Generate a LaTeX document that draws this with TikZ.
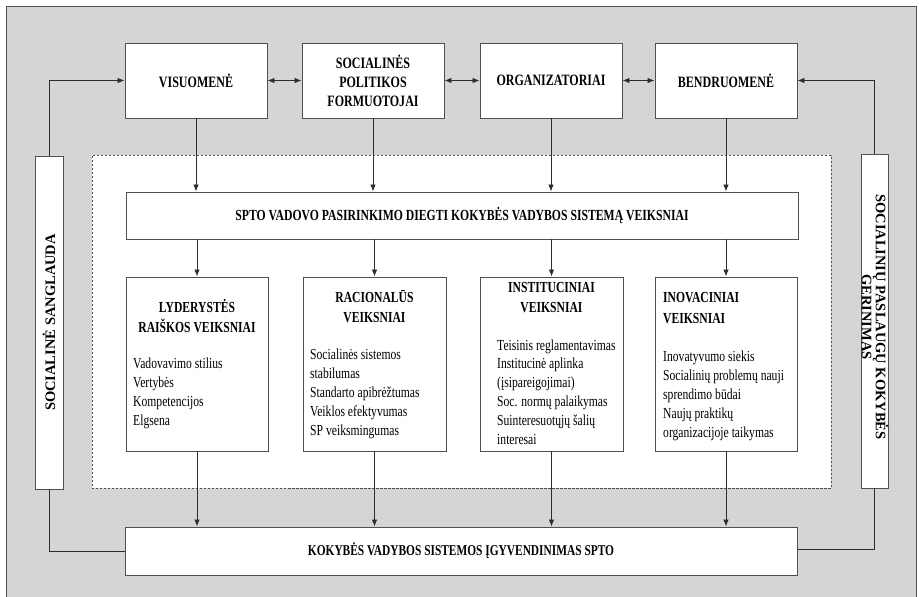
\documentclass[tikz,border=0pt]{standalone}
\usepackage{fontspec}
\setmainfont{Liberation Serif}[FakeStretch=0.76]
\newfontfamily\sidefont{Liberation Serif}
\usetikzlibrary{arrows.meta}

\definecolor{panel}{RGB}{212,213,215}
\definecolor{ink}{RGB}{45,45,45}
\definecolor{frame}{RGB}{80,80,80}

\begin{document}
\begin{tikzpicture}[x=1bp,y=-1bp,
  box/.style={draw=frame, line width=0.9bp, fill=white, inner sep=0pt},
  zone/.style={draw=frame, line width=0.7bp, dash pattern=on 2.5bp off 1.5bp, fill=white, inner sep=0pt},
  link/.style={draw=ink, line width=0.85bp},
  tip/.tip={Latex[length=7bp,width=5.5bp]},
  arr/.style={link, -tip},
  darr/.style={link, tip-tip},
  head/.style={font=\bfseries\fontsize{15.8bp}{19bp}\selectfont, align=center, inner sep=0pt},
  fhead/.style={font=\bfseries\fontsize{15.3bp}{20bp}\selectfont, inner sep=0pt},
  body/.style={font=\fontsize{15.3bp}{19bp}\selectfont, align=left, inner sep=0pt, anchor=base west},
  side/.style={font=\sidefont\bfseries\fontsize{14.5bp}{14bp}\selectfont, align=center, inner sep=0pt}
]
\useasboundingbox (0,0) rectangle (919,597);

% background panel
\fill[panel] (6,6) rectangle (916,597);
\draw[frame, line width=0.9bp] (6,597) -- (6,6) -- (916,6) -- (916,597);

% dashed area around the factor groups
\node[zone, minimum width=739bp, minimum height=333bp] (zone) at (461.5,321.5) {};

% actors
\node[box, minimum width=142bp, minimum height=75bp, head] (vis) at (196,80.5) {VISUOMENĖ};
\node[box, minimum width=142bp, minimum height=75bp, head] (spf) at (373,80.5) {SOCIALINĖS\\POLITIKOS\\FORMUOTOJAI};
\node[box, minimum width=142bp, minimum height=75bp, head] (org) at (551,80.5) {ORGANIZATORIAI};
\node[box, minimum width=142bp, minimum height=75bp, head] (ben) at (726,80.5) {BENDRUOMENĖ};

% side boxes
\node[box, minimum width=28bp, minimum height=333bp] (sang) at (49,322.5) {};
\node[side, rotate=90] (sangt) at (49,322.5) {SOCIALINĖ SANGLAUDA};
\node[box, minimum width=27bp, minimum height=334bp] (ger) at (874.5,321) {};
\node[side, rotate=-90] (gert) at (875,317) {SOCIALINIŲ PASLAUGŲ KOKYBĖS\\GERINIMAS};

% factor bar
\node[box, minimum width=672bp, minimum height=47bp, head, font=\bfseries\fontsize{15.4bp}{19bp}\selectfont] (bar) at (462,215.5)
  {SPTO VADOVO PASIRINKIMO DIEGTI KOKYBĖS VADYBOS SISTEMĄ VEIKSNIAI};

% factor groups
\node[box, minimum width=142bp, minimum height=174bp] (lyd) at (197,364) {};
\node[box, minimum width=143bp, minimum height=174bp] (rac) at (374.5,364) {};
\node[box, minimum width=143bp, minimum height=174bp] (ins) at (551.5,364) {};
\node[box, minimum width=142bp, minimum height=174bp] (ino) at (726,364) {};

% group texts (anchored at the baseline of their last line)
\node[fhead, align=center, anchor=base] (lydh) at (197,332.5) {LYDERYSTĖS\\RAIŠKOS VEIKSNIAI};
\node[body] (lydb) at (133,425) {Vadovavimo stilius\\Vertybės\\Kompetencijos\\Elgsena};

\node[fhead, align=center, anchor=base] (rach) at (374.5,322.5) {RACIONALŪS\\VEIKSNIAI};
\node[body] (racb) at (310,435) {Socialinės sistemos\\stabilumas\\Standarto apibrėžtumas\\Veiklos efektyvumas\\SP veiksmingumas};

\node[fhead, align=center, anchor=base] (insh) at (551.5,312.5) {INSTITUCINIAI\\VEIKSNIAI};
\node[body, font=\fontsize{15.3bp}{18.8bp}\selectfont] (insb) at (497,444) {Teisinis reglamentavimas\\Institucinė aplinka\\(įsipareigojimai)\\Soc. normų palaikymas\\Suinteresuotųjų šalių\\interesai};

\node[fhead, align=left, anchor=base west, font=\bfseries\fontsize{15.3bp}{21bp}\selectfont] (inoh) at (663,323.5) {INOVACINIAI\\VEIKSNIAI};
\node[body] (inob) at (663,437) {Inovatyvumo siekis\\Socialinių problemų nauji\\sprendimo būdai\\Naujų praktikų\\organizacijoje taikymas};

% result
\node[box, minimum width=672bp, minimum height=48bp, head, font=\bfseries\fontsize{15bp}{19bp}\selectfont] (kvs) at (461,551)
  {KOKYBĖS VADYBOS SISTEMOS ĮGYVENDINIMAS SPTO};

% links between actors
\draw[darr] (vis.east) -- (spf.west);
\draw[darr] (spf.east) -- (org.west);
\draw[darr] (org.east) -- (ben.west);

% actors to factor bar
\foreach \a in {vis,spf,org,ben}
  \draw[arr] (\a.south) -- (\a.south |- bar.north);

% factor bar to groups, groups to result
\foreach \g in {lyd,rac,ins,ino}{
  \draw[arr] (bar.south -| \g.north) -- (\g.north);
  \draw[arr] (\g.south) -- (\g.south |- kvs.north);
}

% feedback loops
\draw[arr] (sang.north) |- (vis.west);
\draw[link] (sang.south) |- (kvs.west);
\draw[arr] (ger.north) |- (ben.east);
\draw[link] (ger.south) |- ([yshift=2bp]kvs.east);
\end{tikzpicture}
\end{document}
